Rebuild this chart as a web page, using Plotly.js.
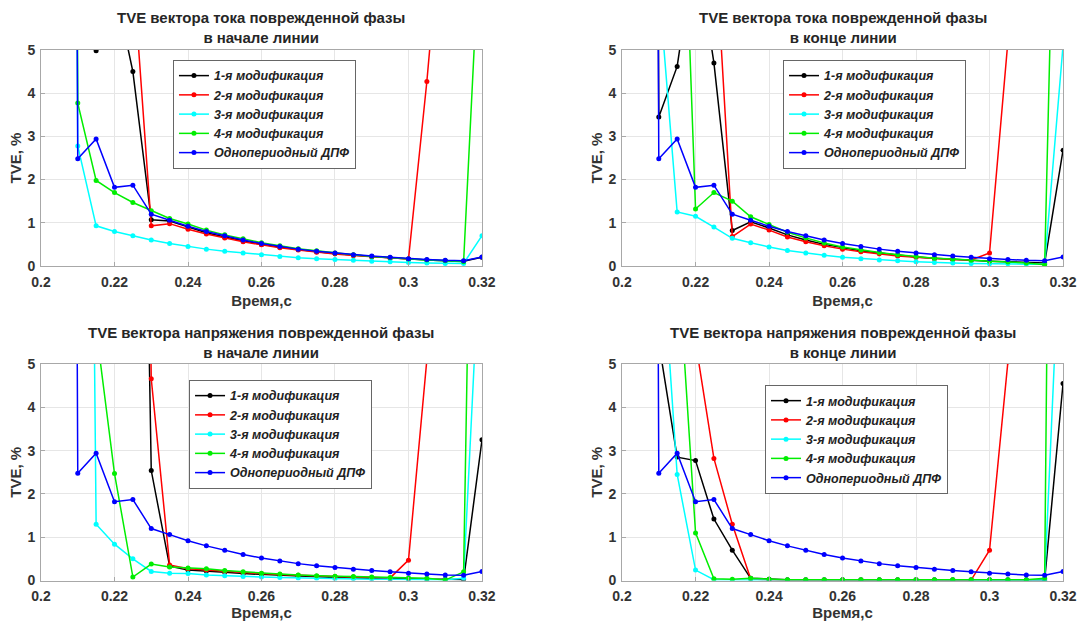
<!DOCTYPE html>
<html>
<head>
<meta charset="utf-8">
<script src="https://cdn.plot.ly/plotly-3.0.1.min.js"></script>
<style>html,body{margin:0;padding:0;background:#fff;}#chart{width:1079px;height:621px;}</style>
</head>
<body>
<div id="chart"></div>
<script>
// Time points, s
const times = [0.205, 0.21, 0.215, 0.22, 0.225, 0.23, 0.235, 0.24, 0.245, 0.25, 0.255, 0.26,
               0.265, 0.27, 0.275, 0.28, 0.285, 0.29, 0.295, 0.3, 0.305, 0.31, 0.315, 0.32];

const seriesNames = ['1-я модификация', '2-я модификация', '3-я модификация', '4-я модификация', 'Однопериодный ДПФ'];

const panelTitles = [
  'TVE вектора тока поврежденной фазы<br>в начале линии',
  'TVE вектора тока поврежденной фазы<br>в конце линии',
  'TVE вектора напряжения поврежденной фазы<br>в начале линии',
  'TVE вектора напряжения поврежденной фазы<br>в конце линии'
];

const xTickVals = [0.2, 0.22, 0.24, 0.26, 0.28, 0.3, 0.32];
const xTickText = ['0.2', '0.22', '0.24', '0.26', '0.28', '0.3', '0.32'];
const yTickVals = [0, 1, 2, 3, 4, 5];
const yTickText = ['0', '1', '2', '3', '4', '5'];

// Single-period DFT (same in all panels)
const dpf = [100, 2.48, 2.94, 1.82, 1.87, 1.2, 1.06, 0.92, 0.8, 0.7, 0.6, 0.52, 0.45, 0.39, 0.34, 0.3, 0.26, 0.23, 0.2, 0.17, 0.15, 0.13, 0.12, 0.21];

// Current, line start
const curStartMod1 = [100, 20, 4.98, 6.5, 4.5, 1.07, 1.04, 0.9, 0.77, 0.67, 0.58, 0.5, 0.44, 0.38, 0.33, 0.29, 0.25, 0.22, 0.19, 0.16, 0.14, 0.12, 0.11, 0.2];
const curStartMod2 = [100, 60, 40, 20, 6.9, 0.93, 0.98, 0.85, 0.74, 0.65, 0.56, 0.49, 0.42, 0.37, 0.32, 0.28, 0.24, 0.21, 0.18, 0.16, 4.27, 9.1, 30, 60];
const curStartMod3 = [100, 2.78, 0.93, 0.8, 0.7, 0.6, 0.52, 0.45, 0.39, 0.34, 0.3, 0.26, 0.22, 0.19, 0.17, 0.15, 0.13, 0.11, 0.1, 0.08, 0.07, 0.06, 0.06, 0.7];
const curStartMod4 = [100, 3.77, 1.98, 1.7, 1.47, 1.28, 1.1, 0.97, 0.83, 0.72, 0.63, 0.54, 0.47, 0.4, 0.35, 0.3, 0.26, 0.22, 0.19, 0.16, 0.14, 0.12, 0.1, 8.7];

// Current, line end
const curEndMod1 = [100, 3.45, 4.62, 7.5, 4.7, 0.82, 1.02, 0.88, 0.72, 0.6, 0.5, 0.42, 0.35, 0.3, 0.25, 0.21, 0.18, 0.15, 0.13, 0.11, 0.1, 0.08, 0.07, 2.68];
const curEndMod2 = [100, 60, 40, 20, 8.0, 0.68, 0.97, 0.83, 0.67, 0.56, 0.47, 0.39, 0.33, 0.28, 0.23, 0.2, 0.17, 0.15, 0.14, 0.3, 5.2, 30, 60, 80];
const curEndMod3 = [100, 6.5, 1.25, 1.15, 0.9, 0.64, 0.54, 0.44, 0.36, 0.3, 0.25, 0.2, 0.17, 0.14, 0.12, 0.1, 0.08, 0.07, 0.06, 0.05, 0.05, 0.04, 0.04, 5.1];
const curEndMod4 = [100, 40, 13.2, 1.32, 1.7, 1.5, 1.14, 0.96, 0.78, 0.65, 0.53, 0.44, 0.37, 0.31, 0.26, 0.22, 0.18, 0.16, 0.13, 0.11, 0.09, 0.07, 0.03, 17.8];

// Voltage, line start
const volStartMod1 = [100, 80, 60, 40, 27, 2.54, 0.33, 0.24, 0.22, 0.19, 0.16, 0.14, 0.12, 0.1, 0.09, 0.07, 0.06, 0.05, 0.04, 0.04, 0.03, 0.03, 0.02, 3.25];
const volStartMod2 = [100, 80, 60, 45, 35, 4.66, 0.36, 0.27, 0.24, 0.21, 0.18, 0.16, 0.14, 0.12, 0.1, 0.09, 0.08, 0.07, 0.06, 0.47, 5.1, 30, 60, 80];
const volStartMod3 = [100, 45, 1.3, 0.84, 0.5, 0.21, 0.17, 0.16, 0.13, 0.11, 0.09, 0.08, 0.07, 0.06, 0.05, 0.04, 0.04, 0.03, 0.03, 0.02, 0.02, 0.02, 0.05, 8.7];
const volStartMod4 = [100, 30, 5.82, 2.47, 0.08, 0.38, 0.31, 0.29, 0.27, 0.23, 0.2, 0.17, 0.15, 0.13, 0.11, 0.1, 0.09, 0.08, 0.07, 0.06, 0.05, 0.01, 0.2, 25];

// Voltage, line end
const volEndMod1 = [100, 5.5, 2.85, 2.77, 1.42, 0.7, 0.05, 0.03, 0.02, 0.02, 0.02, 0.02, 0.02, 0.02, 0.02, 0.02, 0.02, 0.02, 0.02, 0.02, 0.02, 0.02, 0.01, 4.55];
const volEndMod2 = [100, 50, 20, 5.51, 2.82, 1.3, 0.04, 0.01, 0.01, 0.01, 0.01, 0.01, 0.01, 0.01, 0.01, 0.01, 0.01, 0.01, 0.01, 0.7, 5.05, 30, 60, 80];
const volEndMod3 = [100, 8.8, 2.45, 0.24, 0.02, 0.01, 0.01, 0.01, 0.01, 0.01, 0.01, 0.01, 0.01, 0.01, 0.01, 0.01, 0.01, 0.01, 0.01, 0.01, 0.01, 0.01, 0.01, 9.6];
const volEndMod4 = [100, 40, 7.7, 1.1, 0.04, 0.03, 0.05, 0.03, 0.02, 0.02, 0.02, 0.02, 0.02, 0.02, 0.02, 0.02, 0.02, 0.02, 0.02, 0.02, 0.02, 0.02, 0.05, 45];

const colors = ['#000000', '#ff0000', '#00ffff', '#00ee00', '#0000ff'];

const panels = [
  [curStartMod1, curStartMod2, curStartMod3, curStartMod4, dpf],
  [curEndMod1, curEndMod2, curEndMod3, curEndMod4, dpf],
  [volStartMod1, volStartMod2, volStartMod3, volStartMod4, dpf],
  [volEndMod1, volEndMod2, volEndMod3, volEndMod4, dpf]
];

const FONT = 'Liberation Sans, Arial, sans-serif';
const domainsX = [[0.0380, 0.4467], [0.5765, 0.9852], [0.0380, 0.4467], [0.5765, 0.9852]];
const domainsY = [[0.5717, 0.9195], [0.5717, 0.9195], [0.0652, 0.4138], [0.0652, 0.4138]];
const legendPos = [[0.1603, 0.9034], [0.7257, 0.9034], [0.1752, 0.3881], [0.709, 0.380]];

const traces = [];
const layout = {
  width: 1079, height: 621,
  margin: {l: 0, r: 0, t: 0, b: 0},
  paper_bgcolor: '#ffffff', plot_bgcolor: '#ffffff',
  font: {family: FONT, color: '#262626'},
  annotations: [],
  showlegend: true
};

panels.forEach((series, p) => {
  const k = p === 0 ? '' : String(p + 1);
  const legendId = 'legend' + k;
  series.forEach((vals, s) => {
    traces.push({
      x: times, y: vals, type: 'scatter', mode: 'lines+markers',
      name: seriesNames[s],
      xaxis: 'x' + k, yaxis: 'y' + k,
      legend: legendId,
      line: {color: colors[s], width: 1.5},
      marker: {color: colors[s], size: 5},
      hoverinfo: 'skip'
    });
  });
  layout['xaxis' + k] = {
    domain: domainsX[p], anchor: 'y' + k,
    range: [0.2, 0.32], tickvals: xTickVals, ticktext: xTickText,
    showgrid: true, gridcolor: '#e6e6e6', gridwidth: 1,
    showline: true, linecolor: '#a8a8a8', linewidth: 1, mirror: true,
    ticks: 'inside', ticklen: 4, tickcolor: '#a8a8a8',
    zeroline: false, automargin: false, ticklabelstandoff: 3,
    tickfont: {family: FONT, size: 14, weight: 'bold', color: '#333333'},
    title: {text: 'Время,с', font: {family: FONT, size: 15, weight: 'bold', color: '#333333'}, standoff: 6}
  };
  layout['yaxis' + k] = {
    domain: domainsY[p], anchor: 'x' + k,
    range: [0, 5], tickvals: yTickVals, ticktext: yTickText,
    showgrid: true, gridcolor: '#e6e6e6', gridwidth: 1,
    showline: true, linecolor: '#a8a8a8', linewidth: 1, mirror: true,
    ticks: 'inside', ticklen: 4, tickcolor: '#a8a8a8',
    zeroline: false, automargin: false, ticklabelstandoff: 2,
    tickfont: {family: FONT, size: 14, weight: 'bold', color: '#333333'},
    title: {text: 'TVE, %', font: {family: FONT, size: 15, weight: 'bold', color: '#333333'}, standoff: 2}
  };
  layout[legendId] = {
    x: legendPos[p][0], y: legendPos[p][1], xanchor: 'left', yanchor: 'top',
    xref: 'paper', yref: 'paper',
    bgcolor: '#ffffff', bordercolor: '#666666', borderwidth: 1,
    font: {family: FONT, size: 12.5, weight: 'bold', style: 'italic', color: '#222222'},
    itemwidth: 30, tracegroupgap: 0
  };
  layout.annotations.push({
    text: panelTitles[p],
    xref: 'paper', yref: 'paper',
    x: (domainsX[p][0] + domainsX[p][1]) / 2,
    y: domainsY[p][1] + 22 / 621,
    xanchor: 'center', yanchor: 'middle',
    showarrow: false,
    font: {family: FONT, size: 15, weight: 'bold', color: '#262626'}
  });
});

Plotly.newPlot('chart', traces, layout, {displayModeBar: false, staticPlot: true});
</script>
</body>
</html>
